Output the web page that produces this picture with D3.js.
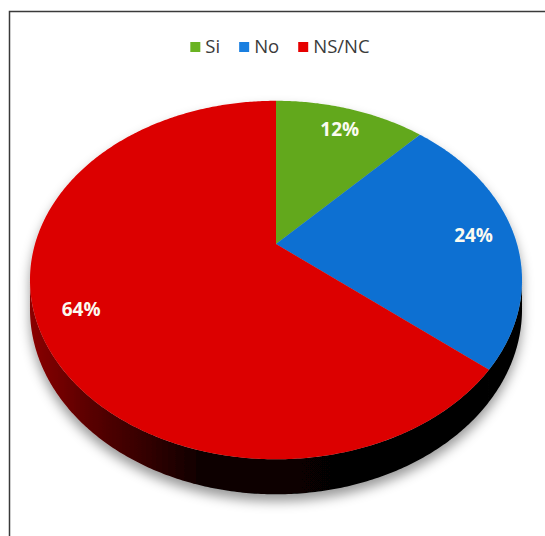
<!DOCTYPE html>
<html>
<head>
<meta charset="utf-8">
<script src="https://cdn.jsdelivr.net/npm/d3@7"></script>
<style>
  body { margin: 0; background: #fff; }
  svg { display: block; }
</style>
</head>
<body>
<div class="chart"></div>
<script>
// data
var categories = ["Si", "No", "NS/NC"];
var values = [12, 24, 64];
var sliceColors = ["#62a81e", "#0a70d2", "#dc0000"];
var legendColors = ["#6ab322", "#1a7fe0", "#e60000"];

var svgWidth = 545, svgHeight = 536;

var svg = d3.select(".chart")
  .append("svg")
  .attr("width", svgWidth)
  .attr("height", svgHeight);

// chart frame (right / bottom edges run off the picture)
svg.append("rect")
  .attr("x", 9.5)
  .attr("y", 11.5)
  .attr("width", 600)
  .attr("height", 600)
  .attr("fill", "none")
  .attr("stroke", "#3a3a3a")
  .attr("stroke-width", 1.5);

var defs = svg.append("defs");

var shadow = defs.append("filter")
  .attr("id", "shadow")
  .attr("x", "-10%").attr("y", "-10%")
  .attr("width", "120%").attr("height", "130%");
shadow.append("feDropShadow")
  .attr("dx", 0).attr("dy", 7)
  .attr("stdDeviation", 6)
  .attr("flood-color", "#000")
  .attr("flood-opacity", 0.4);

var sideGrad = defs.append("linearGradient")
  .attr("id", "sideGrad")
  .attr("gradientUnits", "userSpaceOnUse")
  .attr("x1", 30).attr("x2", 522).attr("y1", 0).attr("y2", 0);
sideGrad.append("stop").attr("offset", "0").attr("stop-color", "#8a0000");
sideGrad.append("stop").attr("offset", "0.12").attr("stop-color", "#5a0000");
sideGrad.append("stop").attr("offset", "0.36").attr("stop-color", "#0a0000");
sideGrad.append("stop").attr("offset", "1").attr("stop-color", "#000");

// perspective disc: centre of the pie lands at the apex
var cx = 276, cy = 244;
var ax = 241, by = 172, k = -0.201, depth = 28;

function proj(angle, r, drop) {
  var u = r * Math.sin(angle);
  var v = -r * Math.cos(angle);
  var w = 1 + k * v;
  return [cx + ax * u / w, cy + by * v / w + (drop || 0) / w];
}

var color = d3.scaleOrdinal().domain(categories).range(sliceColors);

var pie = d3.pie().sort(null).value(function(d) { return d.value; });
var data = categories.map(function(c, i) { return { name: c, value: values[i] }; });
var arcs = pie(data);

var line = d3.line();

function arcPoints(a0, a1, drop) {
  var n = Math.max(2, Math.ceil((a1 - a0) / 0.01));
  return d3.range(n + 1).map(function(i) {
    return proj(a0 + (a1 - a0) * i / n, 1, drop);
  });
}

var pieGroup = svg.append("g").attr("filter", "url(#shadow)");

// visible part of the wall lies between the two silhouette points
var visStart = Math.PI - Math.acos(-k);
var visEnd = Math.PI + Math.acos(-k);

pieGroup.selectAll("path.side")
  .data(arcs.filter(function(d) { return d.endAngle > visStart && d.startAngle < visEnd; }))
  .enter()
  .append("path")
  .attr("class", "side")
  .attr("d", function(d) {
    var s = Math.max(d.startAngle, visStart), e = Math.min(d.endAngle, visEnd);
    var top = arcPoints(s, e, 0);
    var bottom = arcPoints(s, e, depth).reverse();
    return line(top.concat(bottom)) + "Z";
  })
  .attr("fill", "url(#sideGrad)");

pieGroup.selectAll("path.top")
  .data(arcs)
  .enter()
  .append("path")
  .attr("class", "top")
  .attr("d", function(d) {
    return line([proj(0, 0)].concat(arcPoints(d.startAngle, d.endAngle, 0))) + "Z";
  })
  .attr("fill", function(d) { return color(d.data.name); });

// percentage labels
var total = d3.sum(values);
svg.selectAll("text.pct")
  .data(arcs)
  .enter()
  .append("text")
  .attr("class", "pct")
  .attr("x", function(d) { return proj((d.startAngle + d.endAngle) / 2, 0.83)[0]; })
  .attr("y", function(d) { return proj((d.startAngle + d.endAngle) / 2, 0.83)[1]; })
  .attr("dy", "0.35em")
  .attr("text-anchor", "middle")
  .attr("font-family", "'Open Sans', sans-serif")
  .attr("font-weight", "bold")
  .attr("font-size", "19px")
  .attr("fill", "#fbfbf0")
  .text(function(d) { return Math.round(d.value / total * 100) + "%"; });

// legend
var legend = svg.append("g");
var xPos = 0;
categories.forEach(function(c, i) {
  var item = legend.append("g").attr("transform", "translate(" + xPos + ",0)");
  item.append("rect")
    .attr("x", 0).attr("y", -11)
    .attr("width", 10).attr("height", 10)
    .attr("fill", legendColors[i]);
  var t = item.append("text")
    .attr("x", 15).attr("y", 0)
    .attr("font-family", "'Open Sans', sans-serif")
    .attr("font-size", "18.5px")
    .attr("fill", "#3a3a3a")
    .text(c);
  xPos += 15 + t.node().getComputedTextLength() + 19;
});
var legendWidth = xPos - 19;
legend.attr("transform", "translate(" + (280 - legendWidth / 2) + ",53)");
</script>
</body>
</html>
